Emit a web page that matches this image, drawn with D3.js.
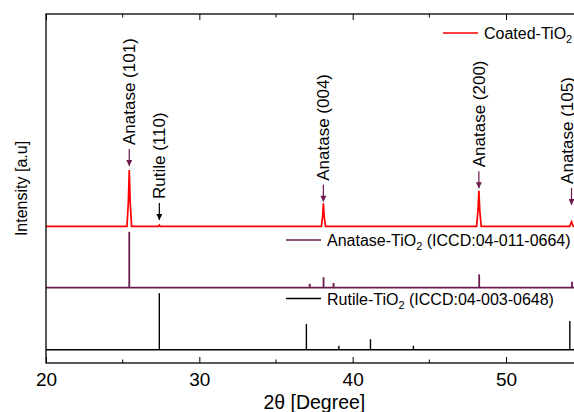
<!DOCTYPE html>
<html lang="en">
<head>
<meta charset="utf-8">
<title>XRD TiO2</title>
<style>
  body { margin: 0; background: #fff; }
  svg { display: block; font-family: "Liberation Sans", Arial, sans-serif; }
</style>
</head>
<body>
<div id="chart"></div>
<script src="https://d3js.org/d3.v7.min.js"></script>
<script>
// coated sample trace (2theta, counts above baseline)
var coatedAngles = [20, 25.28, 25.37, 25.43, 25.49, 25.58, 27.33, 27.39, 27.45, 37.96, 38.04, 38.09, 38.14, 38.23, 48.08, 48.17, 48.23, 48.29, 48.38, 54.15, 54.27, 54.39, 55];
var coatedCounts = [0, 0, 7, 16.1, 7, 0, 0, 0.35, 0, 0, 2.8, 6.6, 2.8, 0, 0, 4.5, 10.2, 4.5, 0, 0, 1.3, 0, 0];

// reference cards (stick patterns)
var anataseAngles = [25.43, 37.2, 38.1, 38.75, 48.25, 54.3];
var anataseCounts = [16.0, 1.1, 3.0, 1.35, 3.8, 1.7];
var rutileAngles = [27.39, 36.98, 39.1, 41.16, 43.96, 54.16];
var rutileCounts = [16.2, 7.4, 1.15, 3.0, 1.15, 8.2];

// vertical offsets of each pattern
var coatedOffset = 39.17, anataseOffset = 21.58, rutileOffset = 3.81;

// peak labels
var annoLabels = ["Anatase (101)", "Rutile (110)", "Anatase (004)", "Anatase (200)", "Anatase (105)"];
var annoAngles = [25.43, 27.39, 38.09, 48.23, 54.27];
var annoTips = [56.45, 40.97, 46.2, 50.06, 45.3];
var annoPhase = ["anatase", "rutile", "anatase", "anatase", "anatase"];

var xTicks = [20, 30, 40, 50];
var xMinor = [25, 35, 45, 55];

var width = 574, height = 412;
var mLeft = 46, mTop = 14, mRight = 582.7, mBottom = 363;
var red = "#ff0000", purple = "#6b1a4e";

var svg = d3.select("#chart").append("svg")
  .attr("width", width).attr("height", height);

var x = d3.scaleLinear().domain([20, 55]).range([mLeft, mRight]);
var y = d3.scaleLinear().domain([0, 100]).range([mBottom, mTop]);

var defs = svg.append("defs");
function marker(id, col) {
  defs.append("marker").attr("id", id)
    .attr("viewBox", "0 0 10 10").attr("refX", 10).attr("refY", 5)
    .attr("markerWidth", 7).attr("markerHeight", 6).attr("markerUnits", "userSpaceOnUse")
    .attr("orient", "auto")
    .append("path").attr("d", "M0,0L10,5L0,10z").attr("fill", col);
}
marker("arrP", purple);
marker("arrK", "#000");

// stick patterns
function sticks(angles, counts, off, col, w) {
  var g = svg.append("g");
  g.append("line")
    .attr("x1", x(20)).attr("x2", x(55))
    .attr("y1", y(off)).attr("y2", y(off))
    .attr("stroke", col).attr("stroke-width", w);
  g.selectAll(".stick").data(angles).enter().append("line")
    .attr("x1", function(d) { return x(d); })
    .attr("x2", function(d) { return x(d); })
    .attr("y1", y(off))
    .attr("y2", function(d, i) { return y(off + counts[i]); })
    .attr("stroke", col).attr("stroke-width", w);
}
sticks(rutileAngles, rutileCounts, rutileOffset, "#000", 1.4);
sticks(anataseAngles, anataseCounts, anataseOffset, purple, 1.8);

var line = d3.line()
  .x(function(d) { return x(d); })
  .y(function(d, i) { return y(coatedOffset + coatedCounts[i]); });
svg.append("path").datum(coatedAngles)
  .attr("d", line).attr("fill", "none")
  .attr("stroke", red).attr("stroke-width", 1.7);

// annotations
var ag = svg.selectAll(".anno").data(annoAngles).enter().append("g");
ag.append("line")
  .attr("x1", function(d) { return x(d); })
  .attr("x2", function(d) { return x(d); })
  .attr("y1", function(d, i) { return y(annoTips[i]) - 17; })
  .attr("y2", function(d, i) { return y(annoTips[i]); })
  .attr("stroke", function(d, i) { return annoPhase[i] == "rutile" ? "#000" : purple; })
  .attr("stroke-width", 1.2)
  .attr("marker-end", function(d, i) { return annoPhase[i] == "rutile" ? "url(#arrK)" : "url(#arrP)"; });
ag.append("text")
  .attr("transform", function(d, i) {
    var tx = Math.min(x(d), width - 7);   // last label sits on the edge
    return "translate(" + tx + "," + (y(annoTips[i]) - 21) + ") rotate(-90)";
  })
  .attr("dy", "0.35em")
  .attr("font-size", 17)
  .text(function(d, i) { return annoLabels[i]; });

// legends
function legend(lx, ly, col, w, a, b) {
  svg.append("line").attr("x1", lx).attr("x2", lx + 35).attr("y1", ly).attr("y2", ly)
    .attr("stroke", col).attr("stroke-width", w);
  var t = svg.append("text").attr("x", lx + 41).attr("y", ly + 6).attr("font-size", 16);
  t.append("tspan").text(a);
  t.append("tspan").attr("font-size", 11).attr("dy", 4).text("2");
  if (b) t.append("tspan").attr("dy", -4).text(b);
}
legend(443, 33, red, 1.7, "Coated-TiO");
legend(286, 240, purple, 1.6, "Anatase-TiO", " (ICCD:04-011-0664)");
legend(286, 298.5, "#000", 1.3, "Rutile-TiO", " (ICCD:04-003-0648)");

// axes
var xb = svg.append("g").attr("transform", "translate(0," + mBottom + ")")
  .call(d3.axisBottom(x).tickValues(xTicks).tickSizeInner(-6).tickSizeOuter(0).tickPadding(9.5));
xb.selectAll("text").attr("font-size", 19).attr("font-family", null);
xb.append("g").selectAll("line").data(xMinor).enter().append("line")
  .attr("x1", function(d) { return x(d); }).attr("x2", function(d) { return x(d); })
  .attr("y1", 0).attr("y2", -3.5).attr("stroke", "#000");
var xt = svg.append("g").attr("transform", "translate(0," + mTop + ")")
  .call(d3.axisTop(x).tickValues(xTicks).tickSizeInner(-6).tickSizeOuter(0).tickFormat(""));
xt.append("g").selectAll("line").data(xMinor).enter().append("line")
  .attr("x1", function(d) { return x(d); }).attr("x2", function(d) { return x(d); })
  .attr("y1", 0).attr("y2", 3.5).attr("stroke", "#000");
svg.selectAll(".domain").remove();

svg.append("rect").attr("x", mLeft).attr("y", mTop)
  .attr("width", mRight - mLeft).attr("height", mBottom - mTop)
  .attr("fill", "none").attr("stroke", "#000").attr("stroke-width", 1.3);

svg.append("text").attr("x", (mLeft + mRight) / 2).attr("y", 409)
  .attr("text-anchor", "middle").attr("font-size", 19.5).text("2θ [Degree]");
svg.append("text")
  .attr("transform", "translate(26.5," + (mTop + mBottom) / 2 + ") rotate(-90)")
  .attr("text-anchor", "middle").attr("font-size", 16).text("Intensity [a.u]");
</script>
</body>
</html>
